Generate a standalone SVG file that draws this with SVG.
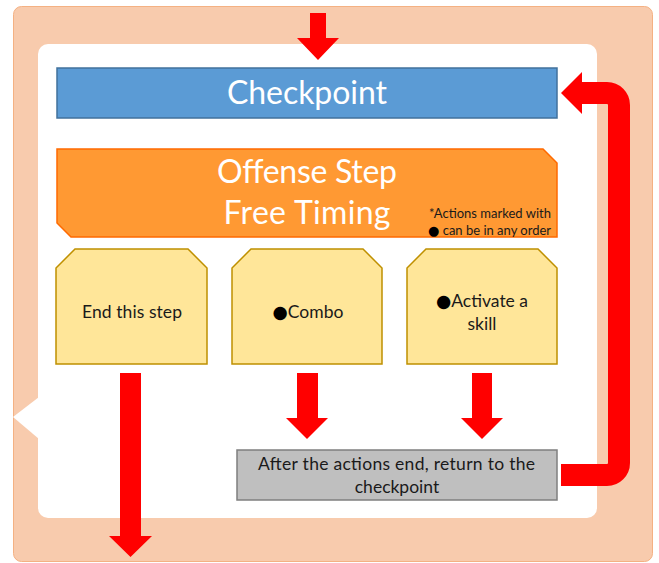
<svg xmlns="http://www.w3.org/2000/svg" width="659" height="563" viewBox="0 0 659 563">
<style>
text{font-family:Lato,"Open Sans","Liberation Sans",sans-serif}
.big{fill:#fff;font-size:32px;text-anchor:middle}
.lbl{fill:#1a1a1a;font-size:17.5px;text-anchor:middle}
.note{fill:#1a1a1a;font-size:13px}
.dot{font-family:"DejaVu Sans",sans-serif;fill:#000}
.yel{fill:#FFE699;stroke:#BF9000;stroke-width:1.5}
.red{fill:#FF0000}
</style>
<g id="frame">
<rect x="13.5" y="6.5" width="639" height="555" rx="8" fill="#F8CBAD" stroke="#F4B183" stroke-width="1"/>
<rect x="38" y="44" width="559" height="474" rx="10" fill="#fff"/>
<polygon points="39,397 13,417 39,439" fill="#fff"/>
</g>
<g id="checkpoint">
<rect x="57" y="68" width="500" height="50" fill="#5B9BD5" stroke="#41719C" stroke-width="1.5"/>
<text class="big" x="307" y="104" textLength="160">Checkpoint</text>
</g>
<g id="offense">
<polygon points="57,149 543,149 557,163 557,237 71,237 57,223" fill="#FF9933" stroke="#FF6A00" stroke-width="1.5"/>
<text class="big" x="307" y="183" textLength="180">Offense Step</text>
<text class="big" x="307" y="224" textLength="167">Free Timing</text>
<text class="note" x="429" y="218" textLength="122">*Actions marked with</text>
<text class="note" x="428" y="235"><tspan class="dot">●</tspan> can be in any order</text>
</g>
<g id="end-step">
<polygon class="yel" points="75,249 188,249 207,268 207,364 56,364 56,268"/>
<text class="lbl" x="132" y="318" textLength="100">End this step</text>
</g>
<g id="combo">
<polygon class="yel" points="251,249 363,249 382,268 382,364 232,364 232,268"/>
<text class="lbl" x="308" y="318"><tspan class="dot">●</tspan>Combo</text>
</g>
<g id="skill">
<polygon class="yel" points="426,249 538,249 557,268 557,364 407,364 407,268"/>
<text class="lbl" x="482" y="307"><tspan class="dot">●</tspan>Activate a</text>
<text class="lbl" x="482" y="330">skill</text>
</g>
<g id="return-box">
<rect x="237" y="450" width="320" height="50" fill="#BFBFBF" stroke="#7F7F7F" stroke-width="1.5"/>
<text class="lbl" x="396.5" y="470" textLength="277">After the actions end, return to the</text>
<text class="lbl" x="397" y="493">checkpoint</text>
</g>
<g id="connectors">
<polygon class="red" points="310,13 326,13 326,38 339,38 318,60 297,38 310,38"/>
<polygon class="red" points="120,373 141,373 141,536 152,536 130.5,557 109,536 120,536"/>
<polygon class="red" points="297,373 318,373 318,418 328,418 307,439 286,418 297,418"/>
<polygon class="red" points="472,373 492,373 492,418 503,418 482,439 461,418 472,418"/>
<path d="M561,475 H607 A12,12 0 0 0 619,463 V105 A12,12 0 0 0 607,93 H580" fill="none" stroke="#FF0000" stroke-width="22"/>
<polygon class="red" points="561,93 582,72 582,114"/>
</g>
</svg>
